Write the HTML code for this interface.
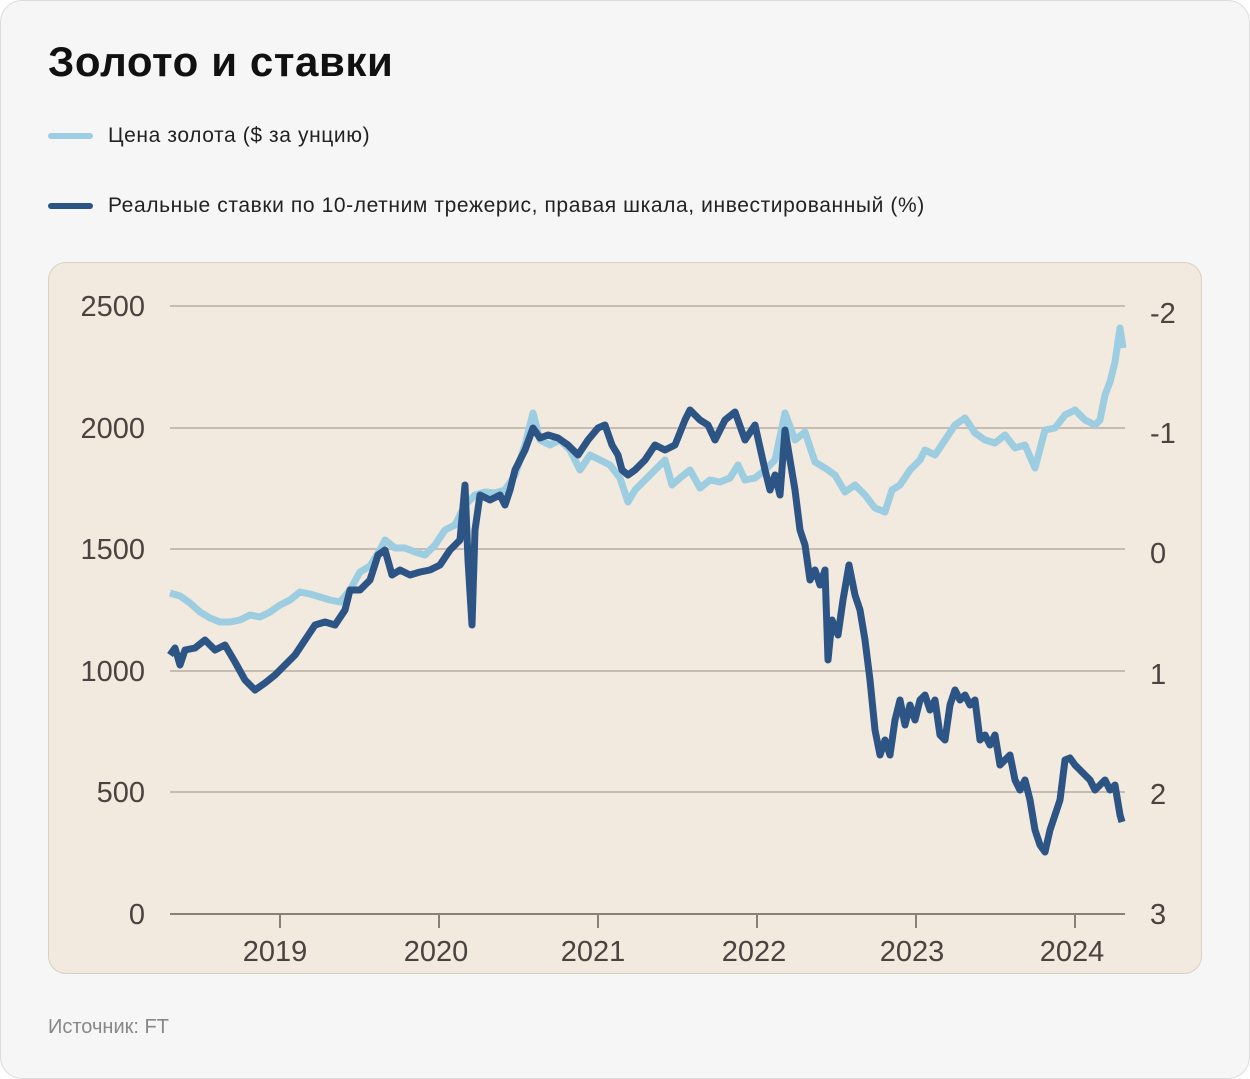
<!DOCTYPE html>
<html><head><meta charset="utf-8"><style>
html,body{margin:0;padding:0;background:#fff;}
.card{position:absolute;left:0;top:0;width:1248px;height:1077px;border:1px solid #dcdcdc;border-radius:22px;background:#f6f6f6;}
.t{position:absolute;left:48px;top:38px;font:bold 42px "Liberation Sans","Noto Sans CJK SC",sans-serif;color:#111;letter-spacing:0.6px;}
.lg{position:absolute;left:108px;font:21px "Liberation Sans","Noto Sans CJK SC",sans-serif;color:#222;letter-spacing:0.6px;}
.sw{position:absolute;left:48px;width:45px;height:6px;border-radius:3px;}
.src{position:absolute;left:48px;top:1016px;font:20px "Liberation Sans","Noto Sans CJK SC",sans-serif;color:#888;}
.panel{position:absolute;left:48px;top:262px;width:1152px;height:710px;border:1px solid #d8d0c6;border-radius:18px;background:#f2e9df;}
svg{position:absolute;left:0;top:0;}
</style></head><body>
<div class="card"></div>
<div class="t">Золото и ставки</div>
<div class="sw" style="top:133px;background:#9dcde0"></div>
<div class="lg" style="top:124px">Цена золота ($ за унцию)</div>
<div class="sw" style="top:203px;background:#2c5485"></div>
<div class="lg" style="top:194px">Реальные ставки по 10-летним трежерис, правая шкала, инвестированный (%)</div>
<div class="panel"></div>
<div class="src">Источник: FT</div>
<svg width="1250" height="1079" font-family="Liberation Sans, sans-serif" font-size="29" fill="#4a4440">
<g stroke="#c7bcb1" stroke-width="2">
<line x1="170" y1="306" x2="1125" y2="306"/><line x1="170" y1="428" x2="1125" y2="428"/>
<line x1="170" y1="549" x2="1125" y2="549"/><line x1="170" y1="671" x2="1125" y2="671"/>
<line x1="170" y1="792" x2="1125" y2="792"/>
</g>
<g stroke="#8a8078" stroke-width="2"><line x1="170" y1="914" x2="1125" y2="914"/>
<line x1="280" y1="914" x2="280" y2="928"/><line x1="439" y1="914" x2="439" y2="928"/><line x1="598" y1="914" x2="598" y2="928"/><line x1="757" y1="914" x2="757" y2="928"/><line x1="916" y1="914" x2="916" y2="928"/><line x1="1075" y1="914" x2="1075" y2="928"/></g>
<g text-anchor="end"><text x="145" y="316">2500</text><text x="145" y="438">2000</text><text x="145" y="559">1500</text><text x="145" y="681">1000</text><text x="145" y="802">500</text><text x="145" y="924">0</text></g>
<g><text x="1150" y="323">-2</text><text x="1150" y="443">-1</text><text x="1150" y="563">0</text><text x="1150" y="684">1</text><text x="1150" y="804">2</text><text x="1150" y="924">3</text></g>
<g text-anchor="middle"><text x="275" y="961">2019</text><text x="436" y="961">2020</text><text x="593" y="961">2021</text><text x="754" y="961">2022</text><text x="912" y="961">2023</text><text x="1072" y="961">2024</text></g>
<polyline fill="none" stroke="#9dcde0" stroke-width="7" stroke-linejoin="round" points="170,593 180,596 190,603 200,612 210,618 220,622 230,622 240,620 250,615 260,617 270,612 280,605 290,600 300,592 310,594 320,597 330,600 340,602 350,590 360,572 370,566 380,550 385,540 395,548 405,548 415,552 425,555 435,545 445,530 455,525 465,505 475,495 485,492 495,493 505,490 515,475 525,445 533,413 540,440 550,445 560,440 570,450 580,470 590,455 600,460 610,465 620,478 628,502 635,490 645,480 655,470 665,460 672,485 680,478 690,470 700,488 710,480 720,482 730,478 738,465 745,480 755,478 765,470 775,460 785,413 795,440 805,432 815,462 825,468 835,475 845,492 855,485 865,495 875,508 885,512 892,490 900,485 910,470 920,460 925,450 935,455 945,440 955,425 965,418 975,433 985,440 995,443 1005,435 1015,448 1025,445 1035,468 1045,430 1055,428 1065,415 1075,410 1085,420 1095,425 1100,420 1105,395 1110,382 1115,362 1120,328 1123,348"/>
<polyline fill="none" stroke="#2c5485" stroke-width="7" stroke-linejoin="round" points="170,655 175,648 180,665 185,650 195,648 205,640 215,650 225,645 235,662 245,680 255,690 265,683 275,675 285,665 295,655 305,640 315,625 325,622 335,625 345,610 350,590 360,590 370,580 378,555 385,550 392,575 400,570 410,575 420,572 430,570 440,565 450,550 460,540 465,485 468,560 472,625 475,530 480,495 490,500 500,495 505,505 510,490 515,470 525,450 533,428 540,438 548,435 558,438 568,445 578,455 588,440 598,428 605,425 612,445 618,455 622,470 628,475 635,470 645,460 655,445 665,450 675,445 685,420 690,410 700,420 708,425 715,440 725,420 735,412 745,440 755,425 765,470 770,490 775,475 780,495 785,430 790,460 795,490 800,530 805,545 810,580 815,570 820,585 825,570 828,660 832,620 838,635 843,600 849,565 855,595 860,610 865,640 870,680 875,730 880,755 885,740 890,755 895,720 900,700 905,725 910,705 915,720 920,700 925,695 930,710 935,700 940,735 945,740 950,705 955,690 960,700 965,695 970,705 975,700 980,740 985,735 990,745 995,735 1000,765 1005,760 1010,755 1015,780 1020,790 1025,780 1030,800 1035,830 1040,845 1045,852 1050,830 1055,815 1060,800 1065,760 1070,758 1075,765 1080,770 1085,775 1090,780 1095,790 1100,785 1105,780 1110,790 1115,785 1120,815 1122,822"/>
</svg>
</body></html>
